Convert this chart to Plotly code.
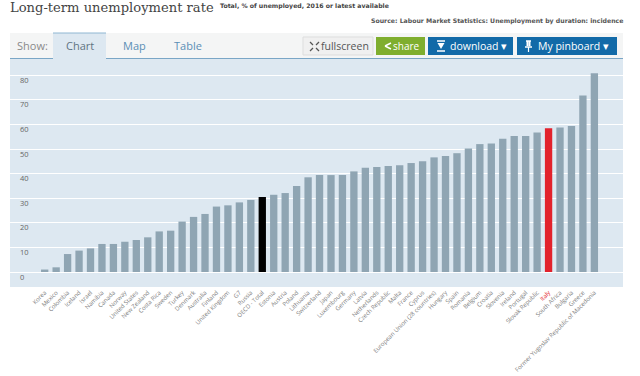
import plotly.graph_objects as go

countries = ["Korea","Mexico","Colombia","Iceland","Israel","Namibia","Canada","Norway","United States","New Zealand","Costa Rica","Sweden","Turkey","Denmark","Australia","Finland","United Kingdom","G7","Russia","OECD - Total","Estonia","Austria","Poland","Lithuania","Switzerland","Japan","Luxembourg","Germany","Latvia","Netherlands","Czech Republic","Malta","France","Cyprus","European Union (28 countries)","Hungary","Spain","Romania","Belgium","Croatia","Slovenia","Ireland","Portugal","Slovak Republic","Italy","South Africa","Bulgaria","Greece","Former Yugoslav Republic of Macedonia"]
values = [1.0,1.9,7.3,8.7,9.6,11.4,11.4,12.3,13.0,14.1,16.5,16.8,20.5,22.4,23.6,26.6,27.1,28.3,29.3,30.5,31.4,32.1,35.0,38.5,39.4,39.4,39.4,40.9,42.4,42.7,43.1,43.4,44.3,45.0,46.6,47.2,48.3,50.2,52.0,52.2,54.2,55.3,55.3,56.7,58.4,58.7,59.4,71.8,80.8]
y_ticks = [0,10,20,30,40,50,60,70,80]
highlight = {"OECD - Total":"#000000","Italy":"#e2222c"}
BAR = "#8fa5b3"
PANEL = "#dde8f1"

L,R,T,B = 10,623,59,287
def px(x): return (x-L)/(R-L)
def py(y): return (B-y)/(B-T)

def rect(x0,y0,x1,y1,fill,line=None):
    return dict(type="rect",xref="paper",yref="paper",x0=px(x0),x1=px(x1),y0=py(y0),y1=py(y1),
                fillcolor=fill,line=dict(color=line or fill,width=1 if line else 0),layer="below")
def seg(x0,y0,x1,y1,c,w=1):
    return dict(type="line",xref="paper",yref="paper",x0=px(x0),x1=px(x1),y0=py(y0),y1=py(y1),line=dict(color=c,width=w))
def text(x,y,s,size,color,font="Open Sans",anchor="left",bold=False):
    return dict(xref="paper",yref="paper",x=px(x),y=py(y),text=f"<b>{s}</b>" if bold else s,showarrow=False,
                xanchor=anchor,yanchor="middle",font=dict(size=size,color=color,family=font),align=anchor,
                borderpad=0,borderwidth=0)

colors = [highlight.get(c,BAR) for c in countries]
ticktext = [f'<span style="color:#e2222c">{c}</span>' if c=="Italy" else c for c in countries]

fig = go.Figure(go.Bar(x=list(range(len(countries))),y=values,marker=dict(color=colors,line=dict(width=0)),width=0.64,hoverinfo="skip"))

shapes = [
    rect(10,33,623,59,"#f4f5f5"),
    rect(53,33,106,59,PANEL),
    seg(53,33,106,33,"#8fb6d2",1),
    seg(10,58.5,53,58.5,"#7aa6c6",1),
    seg(106,58.5,623,58.5,"#7aa6c6",1),
    rect(303,37,373,55,"#f0f0f0","#dddddd"),
    rect(376,37,425,55,"#7fae2e"),
    rect(428,37,513,55,"#126aa8"),
    rect(517,37,617,55,"#126aa8"),
    # fullscreen icon
    seg(310,42,313,45,"#555",1.3), seg(319,42,316,45,"#555",1.3),
    seg(310,51,313,48,"#555",1.3), seg(319,51,316,48,"#555",1.3),
    # download icon
    seg(437,41,445,41,"#fff",1.5), seg(437,51,445,51,"#fff",1.5),
    dict(type="path",xref="paper",yref="paper",path=f"M {px(437.5)} {py(43)} L {px(444.5)} {py(43)} L {px(441)} {py(49)} Z",fillcolor="#fff",line=dict(width=0)),
    # pin icon
    seg(526,41,531,41,"#fff",1.5), seg(527.5,41,527.5,46,"#fff",2), seg(529.5,41,529.5,46,"#fff",2),
    seg(525,47,532,47,"#fff",1.5), seg(528.5,47,528.5,52,"#fff",1.2),
    # share icon
    seg(385,46,391,43,"#fff",1.5), seg(385,46,391,49,"#fff",1.5),
]

annotations = [
    text(10,7.5,"Long-term unemployment rate",13.1,"#444444","DejaVu Serif"),
    text(220,5.5,"Total, % of unemployed, 2016 or latest available",6.2,"#444444","DejaVu Sans",bold=True),
    text(623,20.5,"Source: Labour Market Statistics: Unemployment by duration: incidence",6.2,"#555555","DejaVu Sans","right",True),
    text(17,45.5,"Show:",11,"#8a8a8a"),
    text(79.5,46,"Chart",11,"#5f7482",anchor="center"),
    text(134,46,"Map",11,"#5b8fb5",anchor="center"),
    text(188,46,"Table",11,"#5b8fb5",anchor="center"),
    text(321,46,"fullscreen",10.5,"#555555"),
    text(393,46,"share",10,"#ffffff"),
    text(450,46,"download ▾",10.5,"#ffffff"),
    text(538,46,"My pinboard ▾",10.5,"#ffffff"),
]

fig.update_layout(
    width=640,height=376,autosize=False,
    margin=dict(l=L,r=640-R,t=T,b=376-B,pad=0),
    paper_bgcolor="#ffffff",plot_bgcolor=PANEL,
    showlegend=False,shapes=shapes,annotations=annotations,
    font=dict(family="Open Sans"),
    xaxis=dict(range=[-3.03,50.5],tickmode="array",tickvals=list(range(len(countries))),ticktext=ticktext,
               tickangle=-45,tickfont=dict(size=6,color="#808080",family="Open Sans"),automargin=False,
               showgrid=False,zeroline=False,ticks="",showline=False,ticklabelstandoff=0),
    yaxis=dict(range=[-6.1,86.6],tickmode="array",tickvals=y_ticks,ticktext=[str(v) for v in y_ticks],automargin=False,
               gridcolor="#ffffff",gridwidth=1,zeroline=False,showline=False,ticks="",
               ticklabelposition="inside",ticklabelshift=5,ticklabelstandoff=7,
               tickfont=dict(size=7.5,color="#666666",family="Open Sans")),
)
fig.write_html("out.html", config={"displayModeBar":False}, post_script="document.body.style.margin='0';")
